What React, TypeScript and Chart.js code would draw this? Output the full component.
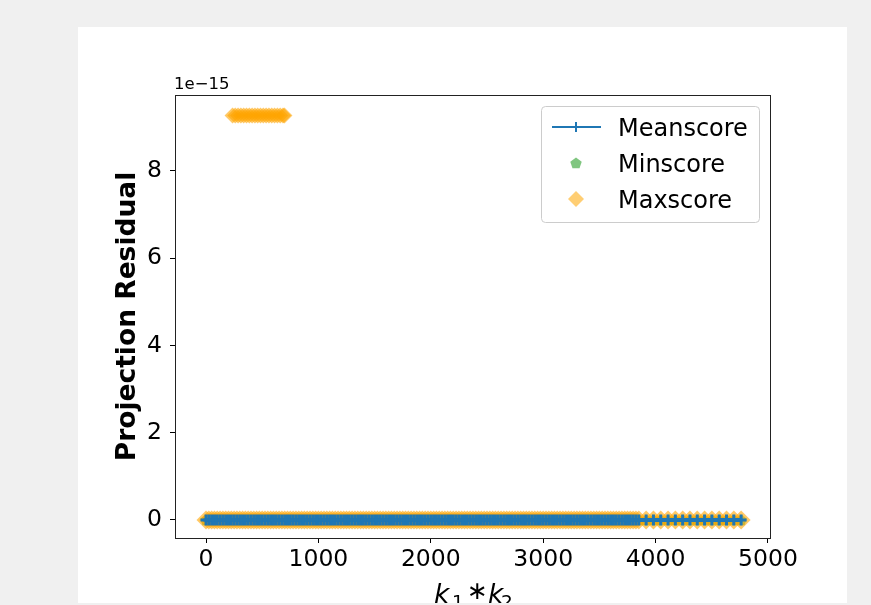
import React, { useEffect, useRef } from "react";
import { Chart, registerables } from "chart.js";

Chart.register(...registerables);

// k1*k2 values (x positions of the scores)
const kProducts = [
  0, 25, 50, 75, 100, 125, 150, 175, 200, 225, 250, 275, 300, 325, 350, 375, 400, 425, 450, 475,
  500, 525, 550, 575, 600, 625, 650, 675, 700, 725, 750, 775, 800, 825, 850, 875, 900, 925, 950, 975,
  1000, 1025, 1050, 1075, 1100, 1125, 1150, 1175, 1200, 1225, 1250, 1275, 1300, 1325, 1350, 1375, 1400, 1425, 1450, 1475,
  1500, 1525, 1550, 1575, 1600, 1625, 1650, 1675, 1700, 1725, 1750, 1775, 1800, 1825, 1850, 1875, 1900, 1925, 1950, 1975,
  2000, 2025, 2050, 2075, 2100, 2125, 2150, 2175, 2200, 2225, 2250, 2275, 2300, 2325, 2350, 2375, 2400, 2425, 2450, 2475,
  2500, 2525, 2550, 2575, 2600, 2625, 2650, 2675, 2700, 2725, 2750, 2775, 2800, 2825, 2850, 2875, 2900, 2925, 2950, 2975,
  3000, 3025, 3050, 3075, 3100, 3125, 3150, 3175, 3200, 3225, 3250, 3275, 3300, 3325, 3350, 3375, 3400, 3425, 3450, 3475,
  3500, 3525, 3550, 3575, 3600, 3625, 3650, 3675, 3700, 3725, 3750, 3775, 3800, 3825,
  3851, 3916, 3981, 4046, 4111, 4176, 4241, 4306, 4371, 4436, 4501, 4566, 4631, 4696, 4761,
];

// scores in units of 1e-15 (all read as zero at the bottom band)
const meanscore = kProducts.map(() => 0);
const minscore = kProducts.map(() => 0);
const maxscore = kProducts.map(() => 0);

// the raised group of Maxscore values
const maxscorePeakK = [236, 260, 285, 310, 335, 360, 385, 410, 435, 460, 485, 510, 535, 560, 585, 610, 635, 660, 685, 698];
const maxscorePeak = [9.27, 9.27, 9.27, 9.27, 9.27, 9.27, 9.27, 9.27, 9.27, 9.27, 9.27, 9.27, 9.27, 9.27, 9.27, 9.27, 9.27, 9.27, 9.27, 9.27];

const xTicks = [0, 1000, 2000, 3000, 4000, 5000];
const yTicks = [0, 2, 4, 6, 8];
const legendLabels = ["Meanscore", "Minscore", "Maxscore"];

const BLUE = "#1f77b4";
const GREEN = "rgba(44,160,44,0.6)";
const ORANGE = "rgba(255,165,0,0.6)";
const ORANGE_LEG = "rgba(255,165,0,0.55)";
const FONT = "'DejaVu Sans', 'Liberation Sans', sans-serif";

function pentagonPath(ctx: CanvasRenderingContext2D, cx: number, cy: number, r: number) {
  ctx.beginPath();
  for (let i = 0; i < 5; i++) {
    const a = -Math.PI / 2 + (i * 2 * Math.PI) / 5;
    const px = cx + r * Math.cos(a);
    const py = cy + r * Math.sin(a);
    if (i === 0) ctx.moveTo(px, py);
    else ctx.lineTo(px, py);
  }
  ctx.closePath();
}

function makePentagon(): HTMLCanvasElement {
  const c = document.createElement("canvas");
  c.width = 14;
  c.height = 14;
  const g = c.getContext("2d")!;
  g.fillStyle = GREEN;
  pentagonPath(g, 7, 7.5, 6);
  g.fill();
  return c;
}

const decorPlugin = {
  id: "decor",
  afterDatasetsDraw(chart: any) {
    const { ctx, chartArea } = chart;
    const { left, top, right, bottom } = chartArea;
    ctx.save();
    ctx.strokeStyle = "#222";
    ctx.lineWidth = 1;
    ctx.strokeRect(Math.round(left) + 0.5, Math.round(top) + 0.5, Math.round(right - left) - 1, Math.round(bottom - top));
    ctx.restore();
  },
  afterDraw(chart: any) {
    const { ctx, chartArea } = chart;
    const { left, top, right, bottom } = chartArea;
    ctx.save();
    ctx.fillStyle = "#000";

    // offset text
    ctx.font = `16.5px ${FONT}`;
    ctx.textAlign = "left";
    ctx.textBaseline = "alphabetic";
    ctx.fillText("1e\u221215", left - 1, top - 6);

    // y title
    ctx.save();
    ctx.translate(57, (top + bottom) / 2);
    ctx.rotate(-Math.PI / 2);
    ctx.font = `bold 26.5px ${FONT}`;
    ctx.textAlign = "center";
    ctx.textBaseline = "alphabetic";
    ctx.fillText("Projection Residual", 0, 0);
    ctx.restore();

    // x title: k1 * k2
    const cx = (left + right) / 2;
    const base = 576;
    ctx.textAlign = "left";
    ctx.textBaseline = "alphabetic";
    ctx.font = `italic 26.5px ${FONT}`;
    ctx.fillText("k", cx - 39, base);
    ctx.font = `18.5px ${FONT}`;
    ctx.fillText("1", cx - 21, base + 5);
    ctx.font = `25px ${FONT}`;
    ctx.fillText("\u2217", cx - 6, base - 4);
    ctx.font = `italic 26.5px ${FONT}`;
    ctx.fillText("k", cx + 15, base);
    ctx.font = `18.5px ${FONT}`;
    ctx.fillText("2", cx + 28, base + 5);

    // legend
    const lx = 463.5, ly = 79.5, lw = 218, lh = 116, rr = 4;
    ctx.beginPath();
    ctx.moveTo(lx + rr, ly);
    ctx.lineTo(lx + lw - rr, ly);
    ctx.arcTo(lx + lw, ly, lx + lw, ly + rr, rr);
    ctx.lineTo(lx + lw, ly + lh - rr);
    ctx.arcTo(lx + lw, ly + lh, lx + lw - rr, ly + lh, rr);
    ctx.lineTo(lx + rr, ly + lh);
    ctx.arcTo(lx, ly + lh, lx, ly + lh - rr, rr);
    ctx.lineTo(lx, ly + rr);
    ctx.arcTo(lx, ly, lx + rr, ly, rr);
    ctx.closePath();
    ctx.fillStyle = "rgba(255,255,255,0.8)";
    ctx.fill();
    ctx.strokeStyle = "#cccccc";
    ctx.lineWidth = 1;
    ctx.stroke();

    const hx = 498;
    const rows = [100, 136, 172];
    ctx.strokeStyle = BLUE;
    ctx.lineWidth = 2;
    ctx.beginPath();
    ctx.moveTo(474, rows[0]);
    ctx.lineTo(523, rows[0]);
    ctx.moveTo(hx, rows[0] - 5);
    ctx.lineTo(hx, rows[0] + 5);
    ctx.stroke();
    ctx.fillStyle = GREEN;
    pentagonPath(ctx, hx, rows[1] + 0.5, 6);
    ctx.fill();
    ctx.fillStyle = ORANGE_LEG;
    ctx.beginPath();
    ctx.moveTo(hx, rows[2] - 8);
    ctx.lineTo(hx + 8, rows[2]);
    ctx.lineTo(hx, rows[2] + 8);
    ctx.lineTo(hx - 8, rows[2]);
    ctx.closePath();
    ctx.fill();

    ctx.fillStyle = "#000";
    ctx.font = `24px ${FONT}`;
    ctx.textAlign = "left";
    ctx.textBaseline = "alphabetic";
    legendLabels.forEach((t, i) => ctx.fillText(t, 540, rows[i] + 9));
    ctx.restore();
  },
};

export default function App() {
  const ref = useRef<HTMLCanvasElement>(null);
  useEffect(() => {
    const canvas = ref.current!;
    const toXY = (xs: number[], ys: number[]) => xs.map((x, i) => ({ x, y: ys[i] }));
    const tickFont = { family: FONT, size: 23.5 };
    const chart = new Chart(canvas, {
      type: "scatter",
      data: {
        datasets: [
          {
            label: "Meanscore",
            data: toXY(kProducts, meanscore),
            showLine: true,
            borderColor: BLUE,
            borderWidth: 4,
            pointStyle: "cross",
            pointRadius: 5.5,
            pointBorderWidth: 3,
            pointBorderColor: BLUE,
            pointBackgroundColor: BLUE,
            order: 0,
          },
          {
            label: "Maxscore",
            data: [...toXY(kProducts, maxscore), ...toXY(maxscorePeakK, maxscorePeak)],
            pointStyle: "rectRot",
            pointRadius: (c: any) => (c.raw && c.raw.y > 1 ? 8 : 9.5),
            pointBackgroundColor: ORANGE,
            backgroundColor: ORANGE,
            pointBorderWidth: 0,
            borderWidth: 0,
            order: 1,
          },
          {
            label: "Minscore",
            data: toXY(kProducts, minscore),
            pointStyle: makePentagon() as any,
            pointRadius: 6,
            order: 2,
          },
        ],
      },
      options: {
        animation: false,
        responsive: false,
        devicePixelRatio: 1,
        events: [],
        layout: { padding: { top: 68, right: 76, left: 0, bottom: 0 } },
        plugins: { legend: { display: false }, tooltip: { enabled: false } },
        scales: {
          x: {
            type: "linear",
            min: -276,
            max: 5027,
            afterBuildTicks: (s: any) => {
              s.ticks = xTicks.map((v) => ({ value: v }));
            },
            afterFit: (s: any) => {
              s.height = 65;
            },
            grid: { display: true, drawOnChartArea: false, drawTicks: true, tickLength: 5, tickColor: "#000", tickWidth: 1 },
            border: { display: false },
            ticks: { font: tickFont, color: "#000", padding: 3, maxRotation: 0, autoSkip: false, callback: (v: any) => String(v) },
          },
          y: {
            type: "linear",
            min: -0.413,
            max: 9.742,
            afterBuildTicks: (s: any) => {
              s.ticks = yTicks.map((v) => ({ value: v }));
            },
            afterFit: (s: any) => {
              s.width = 97;
            },
            grid: { display: true, drawOnChartArea: false, drawTicks: true, tickLength: 5, tickColor: "#000", tickWidth: 1 },
            border: { display: false },
            ticks: { font: tickFont, color: "#000", padding: 8, autoSkip: false, callback: (v: any) => String(v) },
          },
        },
      },
      plugins: [decorPlugin],
    } as any);
    return () => chart.destroy();
  }, []);

  return (
    <div style={{ position: "fixed", left: 0, top: 0, width: 871, height: 605, background: "#f0f0f0", overflow: "hidden" }}>
      <div style={{ position: "absolute", left: 78, top: 27, width: 769, height: 576, background: "#fff" }}>
        <canvas ref={ref} width={769} height={576} style={{ width: 769, height: 576, display: "block" }} />
      </div>
    </div>
  );
}
